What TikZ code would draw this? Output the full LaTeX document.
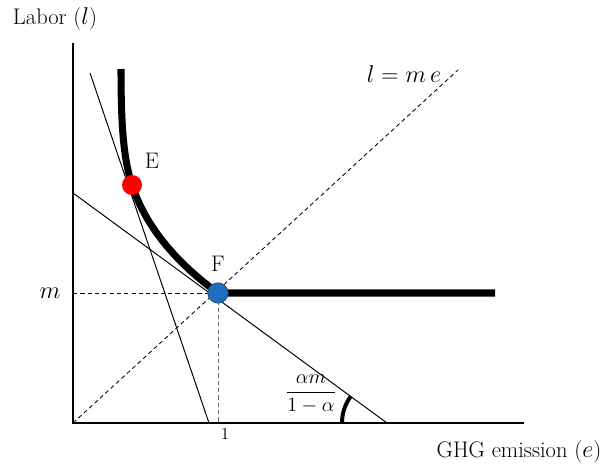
\documentclass[tikz,border=0pt]{standalone}
\usepackage{amsmath}
\usetikzlibrary{backgrounds}
\definecolor{ptred}{HTML}{FF0000}
\definecolor{ptblue}{HTML}{1F6FC0}
\definecolor{ptrim}{HTML}{2F5A8C}

\begin{document}
\begin{tikzpicture}[
    x=0.025cm, y=-0.025cm,
    font=\fontsize{16}{19}\selectfont,
    axis/.style={line width=1.6pt},
    thin line/.style={line width=0.7pt},
    guide/.style={line width=0.6pt,dash pattern=on 3pt off 2.2pt},
    frontier/.style={line width=5pt},
    pt/.style={circle,inner sep=0pt,minimum size=0.5cm}]

  \useasboundingbox (0,0) rectangle (615,466);

  \coordinate (O)     at (73,423);
  \coordinate (ytop)  at (73,43);
  \coordinate (xend)  at (524,423);
  \coordinate (mtick) at (73,293);
  \coordinate (etick) at (218,423);
  \coordinate (top)   at (121,69);
  \coordinate (fend)  at (495,293);
  \coordinate (diag)  at (458,70);
  \coordinate (s1) at (90,73);  \coordinate (s2) at (209,423);
  \coordinate (t1) at (73,193); \coordinate (t2) at (387,423);

  \node[pt,fill=ptred] (E) at (132,185) {};
  \node[pt,fill=ptblue,draw=ptrim,line width=0.8pt] (F) at (218,293) {};

  \begin{scope}[on background layer]
    \draw[axis] (ytop) -- (O) -- (xend);
    \draw[guide] (O) -- (diag);
    \draw[guide] (mtick) -- (F.center);
    \draw[guide,black!60] (F.center) -- (etick);
    \draw[thin line] (s1) -- (s2);
    \draw[thin line] (t1) -- (t2);
    \draw[frontier] (top) .. controls (121,130) and (124,160) .. (E.center)
       .. controls (145,225) and (175,262) .. (F.center) -- (fend);
    % angle of the budget line
    \draw[line width=2.8pt] (t2) ++(180:45) arc[start angle=180,end angle=216,radius=45];
  \end{scope}

  \node (ylab) at (55,19) {Labor ($l$)};
  \node (xlab) at (519,452) {GHG emission ($e$)};
  \node (dlab) at (404,74) {$l = m\,e$};
  \node (Elab) at (152,161) {E};
  \node (Flab) at (218,264) {F};
  \node (mlab) at (50,293) {$m$};
  \node[font=\fontsize{12}{14}\selectfont] (onelab) at (225,434) {1};
  \node[font=\fontsize{15}{17}\selectfont] (alab) at (311,394) {$\dfrac{\alpha m}{1-\alpha}$};
\end{tikzpicture}
\end{document}
